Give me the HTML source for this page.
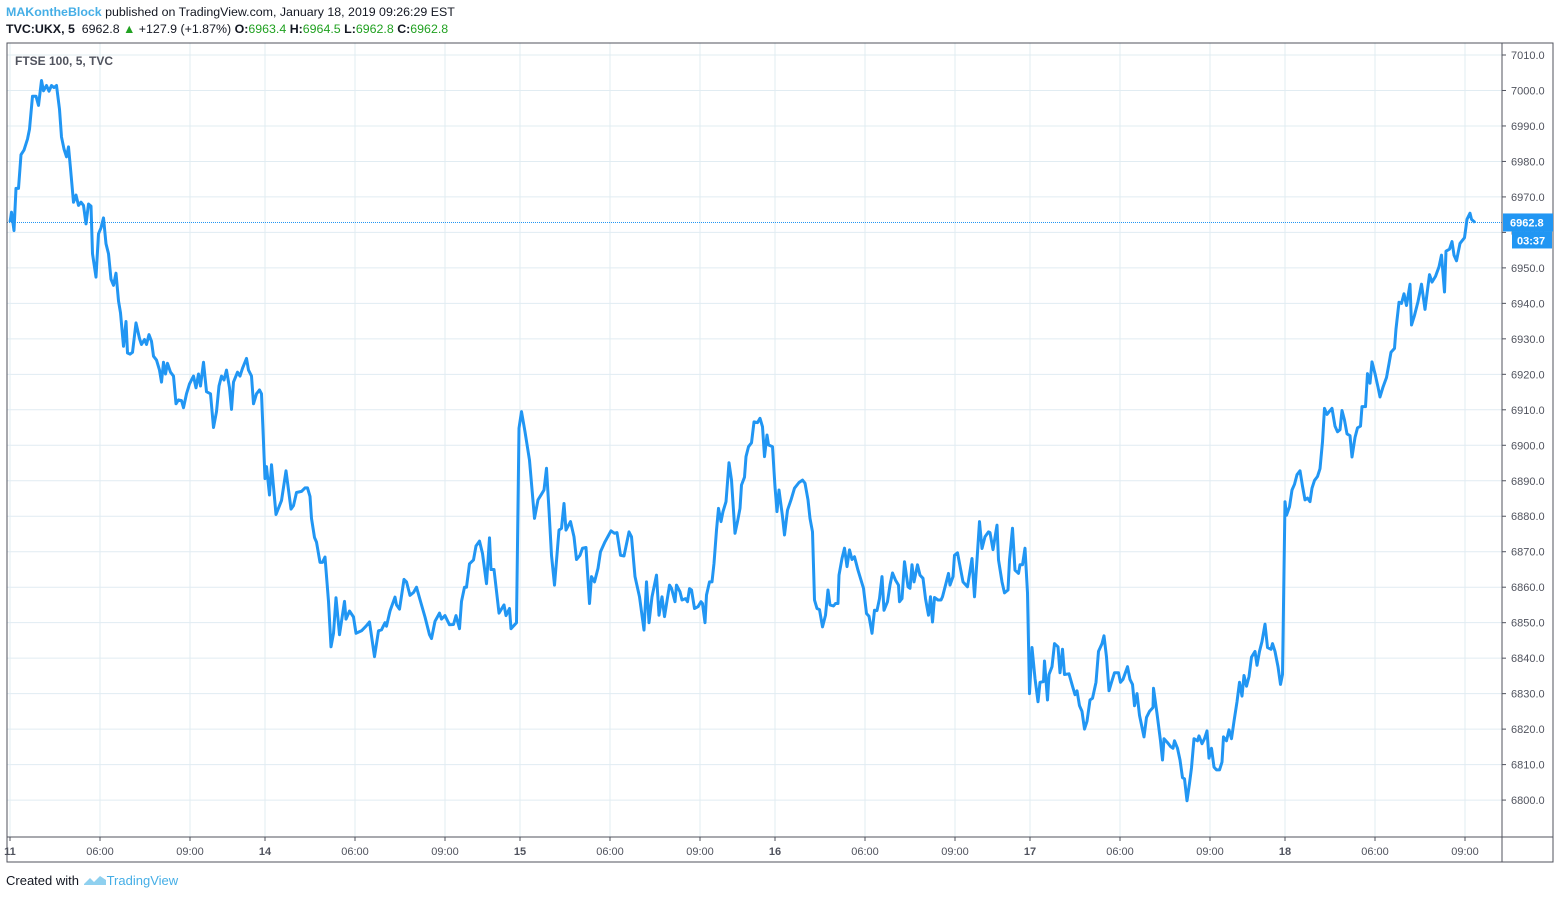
<!DOCTYPE html>
<html><head><meta charset="utf-8">
<style>
html,body{margin:0;padding:0;background:#fff;width:1560px;height:899px;overflow:hidden;font-family:"Liberation Sans",sans-serif;}
.hdr{position:absolute;left:6px;font-size:12.4px;color:#131722;white-space:nowrap;}
.g{color:#21a121;}
</style></head>
<body>
<div class="hdr" style="top:5px"><span style="color:#45aee6;font-weight:bold">MAKontheBlock</span> published on TradingView.com, January 18, 2019 09:26:29 EST</div>
<div class="hdr" style="top:22px"><b>TVC:UKX, 5</b>&nbsp; 6962.8 <span class="g">▲</span> +127.9 (+1.87%) <b>O:</b><span class="g">6963.4</span> <b>H:</b><span class="g">6964.5</span> <b>L:</b><span class="g">6962.8</span> <b>C:</b><span class="g">6962.8</span></div>
<svg id="chart" width="1560" height="899" style="position:absolute;left:0;top:0"></svg>
<div class="hdr" style="top:873px;font-size:13px">Created with <span style="display:inline-block;width:24px;height:10px;position:relative;top:1px"><svg width="24" height="12"><path d="M1 10 L7 4 L11 8 L17 2 L23 6 L23 11 L1 11Z" fill="#8fd0ef"/></svg></span><span style="color:#45aee6">TradingView</span></div>
<script>
const minutes=[0,3,8,12,17,22,28,35,39,45,52,57,63,67,73,78,83,88,93,99,103,108,113,117,121,127,132,137,142,147,152,157,162,165,172,177,182,187,192,197,202,207,212,217,221,227,232,235,240,245,252,259,263,269,273,278,283,287,293,299,303,307,311,315,321,327,332,337,343,347,353,359,367,372,377,381,387,393,401,407,413,418,423,428,433,439,443,447,455,460,465,473,477,483,487,493,499,503,510,513,519,523,532,543,552,562,567,573,583,590,595,600,603,609,613,620,625,630,637,642,647,652,659,669,672,679,687,692,703,712,719,729,737,743,750,753,760,770,773,779,788,793,800,807,813,821,830,839,843,850,859,863,870,879,887,892,899,903,909,913,919,927,932,939,945,953,959,962,968,978,988,992,999,1002,1013,1018,1023,1030,1039,1049,1056,1063,1068,1073,1078,1083,1089,1098,1103,1108,1112,1121,1128,1133,1140,1145,1152,1159,1163,1169,1176,1181,1190,1202,1209,1214,1221,1228,1238,1243,1250,1259,1268,1273,1278,1284,1293,1298,1304,1309,1319,1323,1330,1333,1340,1344,1351,1355,1359,1363,1369,1376,1382,1385,1390,1393,1399,1404,1408,1413,1417,1422,1426,1432,1438,1443,1450,1455,1460,1463,1469,1472,1477,1483,1488,1495,1500,1505,1509,1514,1517,1525,1530,1534,1538,1545,1549,1555,1562,1569,1578,1585,1590,1596,1600,1605,1609,1614,1619,1625,1631,1636,1640,1647,1651,1656,1658,1664,1669,1674,1679,1684,1689,1696,1702,1707,1713,1718,1724,1729,1734,1739,1744,1748,1755,1760,1765,1771,1777,1779,1784,1789,1796,1800,1804,1808,1815,1820,1826,1831,1837,1841,1845,1849,1856,1862,1865,1872,1877,1880,1886,1889,1895,1899,1906,1915,1924,1929,1934,1939,1944,1950,1957,1960,1966,1974,1977,1984,1989,1996,1999,2005,2010,2017,2020,2025,2030,2035,2039,2044,2050,2056,2060,2067,2069,2075,2078,2084,2089,2096,2100,2105,2109,2118,2125,2130,2134,2139,2144,2149,2154,2160,2165,2172,2177,2184,2188,2193,2198,2203,2209,2217,2221,2226,2235,2240,2245,2249,2254,2259,2268,2273,2279,2286,2287,2294,2301,2305,2308,2315,2321,2326,2329,2335,2340,2345,2349,2354,2359,2363,2368,2375,2378,2384,2389,2394,2398,2403,2408,2413,2419,2424,2427,2433,2438,2443,2448,2454,2459,2464,2468,2473,2478,2483,2490,2494,2499,2504,2510,2515,2522,2525,2530,2536,2541,2545,2550,2553,2559,2564,2569,2574,2580,2585,2590,2595,2600,2604,2609,2615,2620,2625,2629,2634,2639,2644,2650,2655,2660,2664,2669,2674,2680,2684,2690,2695,2701,2704,2711,2715,2720,2724,2730,2736,2740,2746,2753,2758,2762,2769,2772,2778,2783,2788,2793,2800,2803,2809,2816,2823,2830,2835,2839,2844,2851,2858,2863,2869,2872,2879,2884,2888,2893,2900,2909,2914,2920,2923,2930];
const prices=[6962.9,6965.7,6960.5,6972.4,6972.4,6981.9,6983.2,6986.3,6989.1,6998.4,6998.4,6995.8,7002.8,6999.9,7001.4,6999.8,7001.4,7000.8,7001.4,6994.7,6986.9,6983.5,6981.3,6984.1,6978,6968.5,6970.5,6967.6,6968.5,6967.6,6962.4,6968,6967.4,6954,6947.4,6959.6,6961.3,6964.1,6956.8,6954,6946.8,6945.1,6948.5,6940.7,6937.3,6927.9,6934.9,6926,6925.7,6926.2,6934.5,6930.1,6928.4,6929.8,6928.4,6931.2,6929.3,6925.1,6924,6921.2,6917.8,6923.4,6920.1,6923.1,6920.6,6919.5,6911.7,6912.8,6912.6,6910.6,6914.5,6917.3,6919.5,6916.2,6920.1,6916.7,6923.4,6915.1,6914.5,6905,6909.5,6916.7,6919.5,6918.4,6921.2,6916.2,6910.1,6917.8,6920.6,6919.5,6921.7,6924.5,6921.2,6919.5,6911.7,6914.5,6915.6,6914.5,6890.6,6894,6886,6894.5,6880.5,6884.4,6892.8,6882,6883,6886.7,6887,6888,6888,6885.6,6879.4,6874,6872.7,6867,6867,6868.5,6856,6843.2,6847,6857,6846.6,6856,6851,6853.3,6851.6,6847,6847.7,6849,6850.2,6840.4,6847.7,6848,6850,6849,6853.3,6857.2,6855,6853.8,6862.2,6861.5,6857.7,6858.5,6860,6856,6851.6,6846.6,6845.5,6850.4,6852.7,6851,6852,6849.4,6849.5,6852,6848.3,6856,6860,6860,6866.6,6867.7,6871.6,6873,6869.5,6861,6873.9,6865,6865,6852.7,6855,6852,6854,6848.3,6850,6904.8,6909.5,6903.8,6895.8,6879.4,6884.6,6886.2,6887.4,6893.5,6881.7,6869,6860.6,6876.1,6876.6,6883.6,6876.1,6878.5,6874.2,6867.8,6869,6871,6871.2,6855.4,6863,6861.5,6865.3,6870,6872.8,6875.9,6875.2,6875.4,6869,6868.8,6875.6,6874.2,6863,6857.3,6847.9,6861.5,6850,6857.3,6863.4,6852.1,6857.3,6851.7,6860.6,6859.7,6855.9,6860.6,6858.7,6856.4,6856.8,6855.9,6859.6,6859.2,6854,6854.5,6855.9,6855.4,6850,6857.8,6861.5,6861.5,6866.7,6876.1,6882.2,6878.5,6881.3,6884.1,6895.1,6890.2,6875.2,6878.5,6882.2,6888.8,6891,6896.8,6899.6,6900.7,6906.6,6906.4,6907.6,6905.2,6896.8,6902.9,6900.1,6899.6,6888.3,6881.3,6887.4,6879.9,6874.7,6881.7,6884.6,6887.9,6889.5,6890.2,6889.3,6884.6,6879.4,6875.6,6856.4,6854,6853.7,6848.8,6852.1,6859.2,6855,6854.7,6855.4,6855.4,6863.4,6868.1,6871,6865.8,6870.5,6867.8,6868.6,6864.8,6862,6859.7,6852.6,6851.8,6847,6853.5,6853.4,6856.8,6863,6853.5,6855.9,6860.6,6864,6862,6860.6,6855.9,6856.8,6867.2,6860.1,6859.7,6866.3,6861.5,6866.3,6863.4,6862.5,6856.8,6852.1,6857.3,6850.2,6857.1,6856.4,6856.4,6857.3,6861.1,6863.9,6860.6,6863,6869,6869.7,6866.7,6861.5,6860.1,6868.1,6857.3,6867.7,6878.5,6870.9,6874.2,6875.6,6875.4,6870.6,6877.5,6867.7,6861.5,6858.4,6859.2,6867.7,6876.6,6864.8,6863.9,6866.3,6866.3,6871,6858.4,6830,6843,6834.3,6827.7,6833.2,6833.4,6839.2,6828.2,6835.4,6837.6,6844.1,6843.2,6835.9,6842.5,6835.4,6835.6,6832.1,6829.7,6830.8,6826.6,6825,6820,6822.2,6828.2,6828.7,6833.2,6841.9,6844.1,6846.3,6840.3,6830.8,6833.2,6835.9,6835.9,6833.2,6834,6837.6,6834,6832.6,6826.6,6830,6823.9,6817.8,6823.3,6825,6826.1,6831.5,6824.4,6816.7,6811.3,6817.3,6816.2,6815.1,6814.6,6816.7,6814.6,6811.3,6806.3,6806,6799.8,6804.7,6809.1,6817.3,6816.7,6818.1,6815.9,6817.3,6819.5,6811.8,6814.6,6809.3,6808.5,6808.5,6810.7,6817.8,6816.7,6819.8,6817.3,6822.2,6827.7,6833.2,6829.3,6835.1,6832.1,6834.8,6840.3,6841.9,6838,6841.9,6844.7,6849.6,6843,6842.5,6844.1,6841.9,6837.6,6832.6,6835.4,6884.1,6880.3,6882.7,6887.4,6889,6891.7,6892.8,6888.5,6884.6,6885.1,6884.1,6887.9,6890.1,6891.2,6893.4,6901,6910.4,6908.7,6909.6,6910.4,6905.4,6903.8,6904.4,6909.8,6907.1,6903.2,6902.7,6896.7,6902.2,6904.9,6905.4,6910.9,6910.9,6920.2,6917.5,6923.5,6920.2,6916.4,6913.6,6916.4,6919.1,6923,6926.2,6927.3,6932.8,6940.3,6940,6942.7,6939.4,6945.4,6933.9,6936.6,6940.5,6945.4,6938.3,6943.8,6948.1,6946,6947.6,6950.3,6953.6,6943.2,6954.7,6955.3,6957.4,6953.6,6952,6956.9,6958.5,6963.7,6965.4,6963.7,6962.8];
const yTicks=[6800,6810,6820,6830,6840,6850,6860,6870,6880,6890,6900,6910,6920,6930,6940,6950,6960,6970,6980,6990,7000,7010];
const xTickMinutes=[0,180,360,510,690,870,1020,1200,1380,1530,1710,1890,2040,2220,2400,2550,2730,2910];
const xTickLabels=["11","06:00","09:00","14","06:00","09:00","15","06:00","09:00","16","06:00","09:00","17","06:00","09:00","18","06:00","09:00"];
const lastPrice=6962.8;

const NS="http://www.w3.org/2000/svg";
const svg=document.getElementById('chart');
const L=7,R=1502,T=43,B=837;
function xs(m){return 10+m/2;}
function ys(v){return 55+(7010-v)*3.548;}
function el(tag,attrs,parent){const e=document.createElementNS(NS,tag);for(const k in attrs)e.setAttribute(k,attrs[k]);(parent||svg).appendChild(e);return e;}

const clip=el('clipPath',{id:'pc'});el('rect',{x:L,y:T,width:R-L,height:B-T},clip);
const grid=el('g',{});


yTicks.forEach(v=>{
  const y=ys(v);
  const ln=el('line',{x1:L,x2:R,y1:y,y2:y,stroke:'#e1ecf2','stroke-width':1},grid);
  
  
  el('line',{x1:R,x2:R+4,y1:y,y2:y,stroke:'#50535e','stroke-width':1});
  const t=el('text',{x:1511,y:y+4,'font-size':11,fill:'#50535e','font-family':'Liberation Sans, sans-serif'});
  t.textContent=v.toFixed(1);
  
  
});
xTickMinutes.forEach((m,i)=>{
  const x=xs(m);
  const ln=el('line',{x1:x,x2:x,y1:T,y2:B,stroke:'#e1ecf2','stroke-width':1},grid);
  
  
  el('line',{x1:x,x2:x,y1:B,y2:B+4,stroke:'#50535e','stroke-width':1});
  const t=el('text',{x:x,y:855,'font-size':11,fill:'#50535e','text-anchor':'middle','font-family':'Liberation Sans, sans-serif','font-weight':xTickLabels[i].length<3?'bold':'normal'});
  t.textContent=xTickLabels[i];
  
  
});
const pl=el('line',{x1:L,x2:R,y1:ys(lastPrice),y2:ys(lastPrice),stroke:'#2196f3','stroke-width':1,'stroke-dasharray':'1,1'});


let d='';
minutes.forEach((m,i)=>{d+=(i?'L':'M')+xs(m).toFixed(1)+' '+ys(prices[i]).toFixed(1);});
const line=el('path',{d:d,fill:'none',stroke:'#2196f3','stroke-width':3,'stroke-linejoin':'round','clip-path':'url(#pc)'});


el('rect',{x:L,y:T,width:1553-L,height:862-T,fill:'none',stroke:'#50535e','stroke-width':1});
el('line',{x1:R,x2:R,y1:T,y2:862,stroke:'#50535e','stroke-width':1});
el('line',{x1:L,x2:1553,y1:B,y2:B,stroke:'#50535e','stroke-width':1});
const ly=ys(lastPrice);
const tag=el('rect',{x:R+1,y:ly-9,width:50,height:18,fill:'#2196f3'});


const tt=el('text',{x:1510,y:ly+4,'font-size':11,fill:'#fff','font-weight':'bold','font-family':'Liberation Sans, sans-serif'});tt.textContent=lastPrice.toFixed(1);


const tag2=el('rect',{x:1512,y:ly+9,width:40,height:17,fill:'#2196f3'});


const ct=el('text',{x:1517,y:ly+22,'font-size':11,fill:'#fff','font-weight':'bold','font-family':'Liberation Sans, sans-serif'});ct.textContent='03:37';


const lg=el('text',{x:15,y:65,'font-size':12,fill:'#50535e','font-weight':'bold','font-family':'Liberation Sans, sans-serif'});lg.textContent='FTSE 100, 5, TVC';


</script>
</body></html>
